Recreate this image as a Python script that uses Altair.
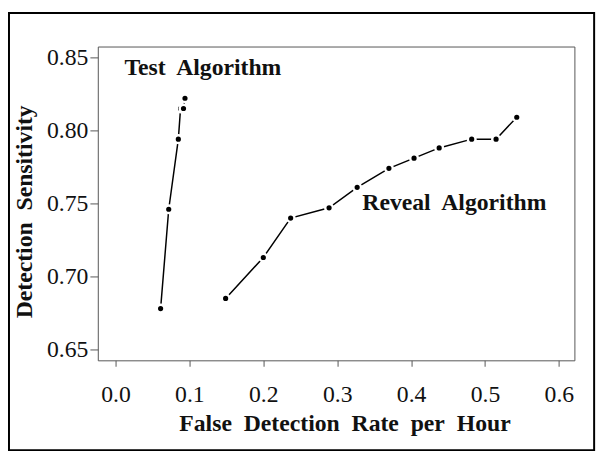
import altair as alt
import pandas as pd

# Test algorithm operating points
test_fdr = [0.061, 0.072, 0.085, 0.088, 0.092, 0.094]
test_sens = [0.678, 0.746, 0.794, 0.815, 0.815, 0.822]

# Reveal algorithm operating points
reveal_fdr = [0.149, 0.200, 0.237, 0.289, 0.327, 0.370, 0.404, 0.438, 0.482, 0.515, 0.543]
reveal_sens = [0.685, 0.713, 0.740, 0.747, 0.761, 0.774, 0.781, 0.788, 0.794, 0.794, 0.809]

label_text = ["Test\u00a0 Algorithm", "Reveal\u00a0 Algorithm"]
label_x = [0.012, 0.334]
label_y = [0.8426, 0.750]

x_ticks = [0.0, 0.1, 0.2, 0.3, 0.4, 0.5, 0.6]
y_ticks = [0.65, 0.70, 0.75, 0.80, 0.85]

df = pd.concat([
    pd.DataFrame({"fdr": test_fdr, "sens": test_sens, "algo": "Test"}),
    pd.DataFrame({"fdr": reveal_fdr, "sens": reveal_sens, "algo": "Reveal"}),
], ignore_index=True)
df["order"] = range(len(df))

labels = pd.DataFrame({"text": label_text, "x": label_x, "y": label_y})

SERIF = "Liberation Serif"

xscale = alt.Scale(domain=[-0.024, 0.621], nice=False, zero=False)
yscale = alt.Scale(domain=[0.6426, 0.8574], nice=False, zero=False)

x_enc = alt.X("fdr:Q", scale=xscale,
              axis=alt.Axis(values=x_ticks, format=".1f",
                            title="False\u00a0 Detection\u00a0 Rate\u00a0 per\u00a0 Hour",
                            titleX=250,
                            tickSize=6, labelPadding=17, titlePadding=5))
y_enc = alt.Y("sens:Q", scale=yscale,
              axis=alt.Axis(values=y_ticks, format=".2f",
                            title="Detection\u00a0 Sensitivity",
                            titleY=167,
                            tickSize=8, labelPadding=2, titlePadding=10))

base = alt.Chart(df)

lines = base.mark_line(color="black", strokeWidth=1.5).encode(
    x=x_enc, y=y_enc, detail="algo:N", order="order:Q"
)

points = base.mark_circle(fill="black", stroke="white", strokeWidth=2.5,
                          size=60, opacity=1).encode(
    x="fdr:Q", y="sens:Q"
)

text = alt.Chart(labels).mark_text(
    font=SERIF, fontSize=24, fontWeight="bold", align="left",
    baseline="middle", color="#111"
).encode(x="x:Q", y="y:Q", text="text:N")

border = alt.Chart(pd.DataFrame({"a": [0]})).mark_rect(
    fill=None, stroke="black", strokeWidth=2
).encode(x=alt.value(-90), x2=alt.value(503), y=alt.value(-34), y2=alt.value(409))

chart = alt.layer(border, lines, points, text).properties(
    width=483, height=318,
    autosize=alt.AutoSizeParams(type="none"),
    padding={"left": 91, "top": 36, "right": 30, "bottom": 101},
    background="white",
).configure_view(
    stroke="#555", strokeWidth=1
).configure_axis(
    grid=False, domain=False,
    labelFont=SERIF, labelFontSize=24, labelColor="#111",
    titleFont=SERIF, titleFontSize=24, titleFontWeight="bold", titleColor="#111",
    tickColor="#555", tickWidth=1,
)

chart.save("out.html", embed_options={"renderer": "svg", "actions": False})
